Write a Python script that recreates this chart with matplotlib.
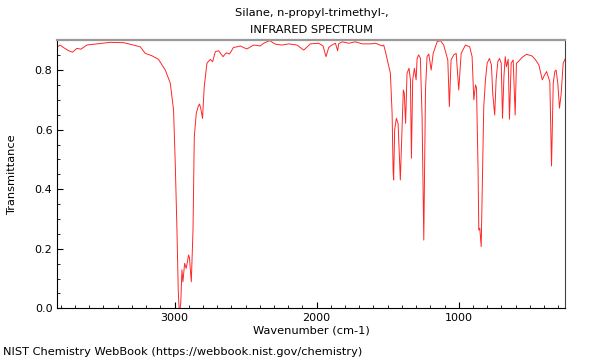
import numpy as np
import matplotlib as mpl
mpl.use('Agg')
import matplotlib.pyplot as plt
from matplotlib.ticker import MultipleLocator

# spectrum (wavenumber in cm-1, transmittance)
wavenumber = [3824, 3805, 3782, 3746, 3718, 3687, 3659, 3617, 3546, 3453,
              3359, 3289, 3241, 3206, 3159, 3113, 3065, 3030, 3007, 2995,
              2983, 2974, 2968, 2962, 2956, 2948, 2941, 2929, 2918, 2901,
              2895, 2882, 2870, 2861, 2847, 2832, 2824, 2815, 2803, 2791,
              2772, 2749, 2732, 2713, 2690, 2659, 2636, 2613, 2585, 2561,
              2537, 2502, 2490, 2444, 2396, 2373, 2331, 2291, 2244, 2197,
              2138, 2091, 2044, 1986, 1955, 1934, 1915, 1892, 1868, 1852,
              1845, 1821, 1774, 1727, 1680, 1620, 1585, 1539, 1528, 1516,
              1492, 1481, 1469, 1462, 1458, 1451, 1439, 1427, 1411, 1399,
              1390, 1383, 1374, 1364, 1350, 1340, 1333, 1324, 1312, 1300,
              1293, 1282, 1270, 1258, 1246, 1234, 1223, 1211, 1194, 1180,
              1152, 1129, 1106, 1077, 1066, 1054, 1035, 1018, 1000, 983,
              953, 923, 906, 894, 882, 875, 864, 859, 852, 842,
              831, 824, 812, 800, 784, 770, 761, 747, 737, 725,
              713, 701, 692, 682, 673, 664, 652, 643, 631, 617,
              603, 594, 582, 553, 523, 483, 459, 436, 412, 400,
              382, 359, 347, 335, 324, 315, 303, 291, 279, 265,
              250]
transmittance = [0.878, 0.884, 0.876, 0.865, 0.860, 0.873, 0.870, 0.884, 0.888, 0.893,
                 0.892, 0.884, 0.878, 0.856, 0.848, 0.836, 0.800, 0.756, 0.666, 0.487,
                 0.263, 0.061, 0.000, -0.005, 0.020, 0.129, 0.089, 0.151, 0.134, 0.179,
                 0.170, 0.089, 0.263, 0.576, 0.655, 0.680, 0.686, 0.670, 0.638, 0.744,
                 0.823, 0.836, 0.828, 0.862, 0.865, 0.845, 0.858, 0.854, 0.876, 0.878,
                 0.881, 0.873, 0.871, 0.884, 0.881, 0.890, 0.899, 0.887, 0.884, 0.888,
                 0.884, 0.867, 0.888, 0.890, 0.881, 0.845, 0.876, 0.884, 0.890, 0.865,
                 0.888, 0.895, 0.890, 0.895, 0.888, 0.888, 0.890, 0.881, 0.884, 0.862,
                 0.811, 0.789, 0.655, 0.464, 0.431, 0.599, 0.638, 0.621, 0.431, 0.610,
                 0.733, 0.722, 0.621, 0.789, 0.806, 0.767, 0.504, 0.767, 0.806, 0.767,
                 0.839, 0.851, 0.840, 0.643, 0.229, 0.733, 0.845, 0.854, 0.800, 0.856,
                 0.895, 0.899, 0.884, 0.834, 0.677, 0.834, 0.851, 0.856, 0.733, 0.856,
                 0.884, 0.878, 0.845, 0.700, 0.750, 0.740, 0.464, 0.263, 0.269, 0.207,
                 0.487, 0.677, 0.767, 0.823, 0.839, 0.817, 0.722, 0.649, 0.767, 0.828,
                 0.839, 0.823, 0.638, 0.778, 0.845, 0.811, 0.836, 0.635, 0.823, 0.834,
                 0.649, 0.823, 0.828, 0.843, 0.853, 0.847, 0.834, 0.817, 0.767, 0.780,
                 0.795, 0.761, 0.478, 0.756, 0.795, 0.800, 0.756, 0.672, 0.722, 0.823,
                 0.839]

title_lines = ['Silane, n-propyl-trimethyl-,', 'INFRARED SPECTRUM']
xlabel = 'Wavenumber (cm-1)'
ylabel = 'Transmittance'
footer = 'NIST Chemistry WebBook (https://webbook.nist.gov/chemistry)'

plt.rcParams['font.family'] = 'DejaVu Sans'
plt.rcParams['font.size'] = 8

fig = plt.figure(figsize=(6, 3.6), dpi=100)
ax = fig.add_axes([0.0955, 0.1436, 0.8467, 0.7445])

ax.plot(wavenumber, transmittance, color='red', lw=0.7, alpha=0.85)
ax.set_xlim(3825, 250)
ax.set_ylim(0, 0.9)

ax.xaxis.set_major_locator(MultipleLocator(1000))
ax.xaxis.set_minor_locator(MultipleLocator(100))
ax.yaxis.set_major_locator(MultipleLocator(0.2))
ax.yaxis.set_minor_locator(MultipleLocator(0.05))
ax.tick_params(which='both', direction='in', top=False, right=False, labelsize=8)
ax.tick_params(which='major', length=4, width=0.8)
ax.tick_params(which='minor', length=2.5, width=0.6)
ax.yaxis.set_major_formatter(mpl.ticker.FormatStrFormatter('%.1f'))

ax.spines['top'].set_color('#999999')
ax.spines['top'].set_linewidth(1.6)
ax.spines['right'].set_color('#444444')
ax.spines['right'].set_linewidth(0.8)

ax.set_xlabel(xlabel, fontsize=8.2, labelpad=2)
ax.set_ylabel(ylabel, fontsize=8.2, labelpad=13)

fig.text(0.52, 1 - 13 / 360, title_lines[0], ha='center', va='center', fontsize=8.2)
fig.text(0.52, 1 - 30 / 360, title_lines[1], ha='center', va='center', fontsize=8.2)
fig.text(0.005, 1 - 352 / 360, footer, ha='left', va='center', fontsize=8.2)

fig.savefig('out.png', dpi=100)
